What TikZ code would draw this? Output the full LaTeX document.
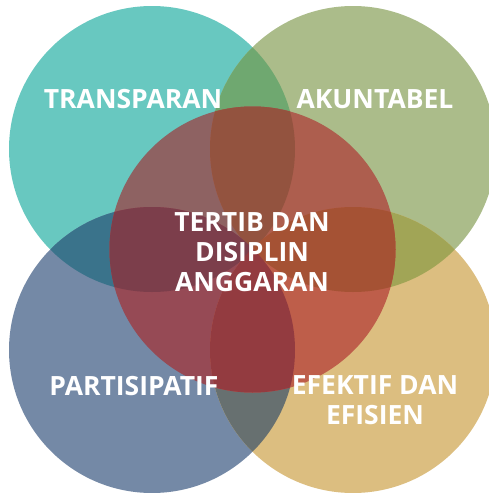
\documentclass[tikz,border=0pt]{standalone}
\usepackage{fontspec}
\setmainfont{Open Sans}
\definecolor{kTL}{HTML}{68C8C0}
\definecolor{kTR}{HTML}{ABBC8A}
\definecolor{kBL}{HTML}{7489A6}
\definecolor{kBR}{HTML}{DCBE80}
\definecolor{kTLTR}{HTML}{6FA870}
\definecolor{kTLBL}{HTML}{3A738B}
\definecolor{kTRBR}{HTML}{A1A556}
\definecolor{kBLBR}{HTML}{677070}
\definecolor{kCTL}{HTML}{8E6262}
\definecolor{kCTR}{HTML}{AD5E4E}
\definecolor{kCBL}{HTML}{964A55}
\definecolor{kCBR}{HTML}{BE5E4A}
\definecolor{kCTLTR}{HTML}{93533F}
\definecolor{kCTLBL}{HTML}{7C3E4B}
\definecolor{kCTRBR}{HTML}{A55234}
\definecolor{kCBLBR}{HTML}{933B40}
\newcommand\circTL{(152,149) circle[radius=143pt]}
\newcommand\circTR{(353,149) circle[radius=143pt]}
\newcommand\circBL{(152,350) circle[radius=143pt]}
\newcommand\circBR{(353,350) circle[radius=143pt]}
\newcommand\circC{(252.5,249.5) circle[radius=143pt]}
\begin{document}
\begin{tikzpicture}[x=1pt,y=-1pt,
  lbl/.style={text=white,font=\fontsize{26.5}{30}\selectfont\bfseries,align=center,inner sep=0pt}]
\useasboundingbox (0,0) rectangle (488,493);
% single circles
\fill[kTL] \circTL;
\fill[kTR] \circTR;
\fill[kBL] \circBL;
\fill[kBR] \circBR;
% pair overlaps
\begin{scope}\clip \circTL; \fill[kTLTR] \circTR; \fill[kTLBL] \circBL; \end{scope}
\begin{scope}\clip \circBR; \fill[kTRBR] \circTR; \fill[kBLBR] \circBL; \end{scope}
% centre circle
\begin{scope}
  \clip \circC;
  \fill[kCTL] \circTL;
  \fill[kCTR] \circTR;
  \fill[kCBL] \circBL;
  \fill[kCBR] \circBR;
  \begin{scope}\clip \circTL; \fill[kCTLTR] \circTR; \fill[kCTLBL] \circBL; \end{scope}
  \begin{scope}\clip \circBR; \fill[kCTRBR] \circTR; \fill[kCBLBR] \circBL; \end{scope}
\end{scope}
% labels
\node[lbl] (trans) at (133,99) {TRANSPARAN};
\node[lbl] (akun) at (375,99) {AKUNTABEL};
\node[lbl] (tertib) at (252,252) {TERTIB DAN\\DISIPLIN\\ANGGARAN};
\node[lbl] (parti) at (134,386) {PARTISIPATIF};
\node[lbl] (efek) at (375,400.5) {EFEKTIF DAN\\EFISIEN};
\end{tikzpicture}
\end{document}
